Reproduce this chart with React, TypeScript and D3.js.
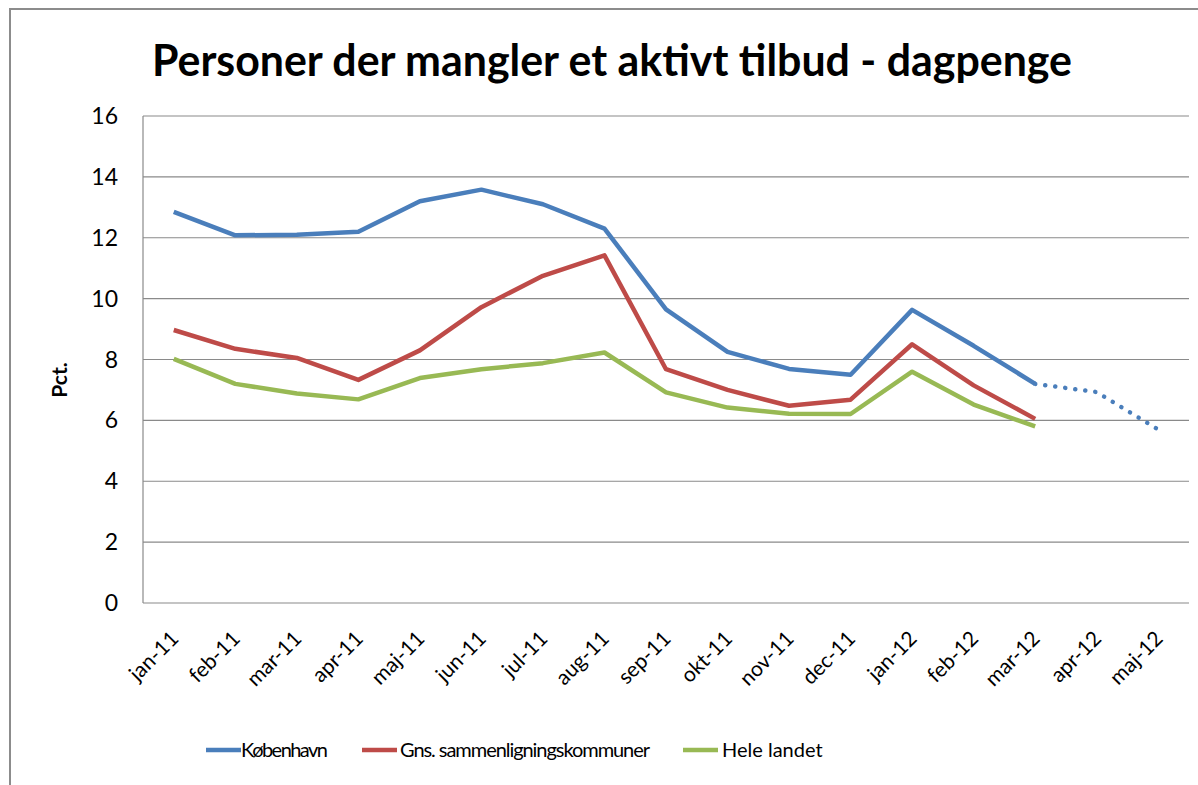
import React from "react";
import * as d3 from "d3";

const categories = [
  "jan-11", "feb-11", "mar-11", "apr-11", "maj-11", "jun-11", "jul-11", "aug-11",
  "sep-11", "okt-11", "nov-11", "dec-11", "jan-12", "feb-12", "mar-12", "apr-12", "maj-12",
];

const kobenhavn = [12.85, 12.08, 12.1, 12.2, 13.2, 13.58, 13.1, 12.3, 9.65, 8.25, 7.69, 7.5, 9.63, 8.45, 7.2, 6.93, 5.7];
const kobenhavnForecastFrom = 14; // dotted from mar-12 onwards
const sammenligning = [8.97, 8.35, 8.05, 7.33, 8.3, 9.72, 10.75, 11.42, 7.68, 7.0, 6.48, 6.68, 8.5, 7.15, 6.05];
const heleLandet = [8.02, 7.2, 6.88, 6.69, 7.39, 7.68, 7.88, 8.23, 6.92, 6.42, 6.22, 6.21, 7.6, 6.52, 5.8];

const yTicks = [0, 2, 4, 6, 8, 10, 12, 14, 16];
const seriesNames = ["København", "Gns. sammenligningskommuner", "Hele landet"];
const colors = ["#4A7EBB", "#BE4B48", "#98B954"];

const W = 1198;
const H = 785;
const plot = { left: 143, right: 1189, top: 116, bottom: 603 };

export default function App() {
  const x = d3.scaleBand<string>().domain(categories).range([plot.left, plot.right]).padding(0);
  const cx = (i: number) => (x(categories[i]) as number) + x.bandwidth() / 2;
  const y = d3.scaleLinear().domain([0, 16]).range([plot.bottom, plot.top]);

  const line = d3
    .line<number>()
    .x((_, i) => cx(i))
    .y((d) => y(d));

  const kbhSolid = kobenhavn.slice(0, kobenhavnForecastFrom + 1);
  const kbhDotted = d3
    .line<number>()
    .x((_, i) => cx(i + kobenhavnForecastFrom))
    .y((d) => y(d))(kobenhavn.slice(kobenhavnForecastFrom));

  const font = "Lato, 'Open Sans', 'Liberation Sans', sans-serif";

  const legendItems = [
    { lx: 206, tx: 241, w: 87 },
    { lx: 362, tx: 400, w: 250 },
    { lx: 683, tx: 722, w: 0 },
  ];

  return (
    <svg
      width={W}
      height={H}
      style={{ position: "absolute", left: 0, top: 0, background: "#fff" }}
      fontFamily={font}
    >
      <rect x={0} y={0} width={W} height={H} fill="#fff" />
      {/* outer chart border */}
      <rect x={10} y={9} width={W + 20} height={H + 20} fill="none" stroke="#8c8c8c" strokeWidth={2} />

      {/* title */}
      <text
        x={612}
        y={76}
        textAnchor="middle"
        fontSize={44}
        fontWeight="bold"
        fill="#000"
        textLength={920}
        lengthAdjust="spacingAndGlyphs"
      >
        Personer der mangler et aktivt tilbud - dagpenge
      </text>

      {/* gridlines */}
      {yTicks.map((t) => (
        <line
          key={t}
          x1={plot.left}
          x2={plot.right}
          y1={y(t)}
          y2={y(t)}
          stroke="#8a8a8a"
          strokeWidth={1.2}
        />
      ))}
      {/* y axis line */}
      <line x1={plot.left} x2={plot.left} y1={plot.top} y2={plot.bottom} stroke="#8a8a8a" strokeWidth={1.2} />

      {/* y tick labels */}
      {yTicks.map((t) => (
        <text key={t} x={118} y={y(t) + 8} textAnchor="end" fontSize={23} fill="#000">
          {t}
        </text>
      ))}

      {/* y axis title */}
      <text
        transform={`translate(67,${380}) rotate(-90)`}
        textAnchor="middle"
        fontSize={21}
        fontWeight="bold"
        fill="#000"
      >
        Pct.
      </text>

      {/* x tick labels */}
      {categories.map((c, i) => (
        <text
          key={c}
          transform={`translate(${cx(i) + 6},${640}) rotate(-45)`}
          textAnchor="end"
          fontSize={21}
          fill="#000"
        >
          {c}
        </text>
      ))}

      {/* lines */}
      <path d={line(heleLandet) || ""} fill="none" stroke={colors[2]} strokeWidth={4.5} strokeLinejoin="round" />
      <path d={line(sammenligning) || ""} fill="none" stroke={colors[1]} strokeWidth={4.5} strokeLinejoin="round" />
      <path d={line(kbhSolid) || ""} fill="none" stroke={colors[0]} strokeWidth={4.5} strokeLinejoin="round" />
      <path
        d={kbhDotted || ""}
        fill="none"
        stroke={colors[0]}
        strokeWidth={4.5}
        strokeDasharray="0.1 10"
        strokeLinecap="round"
      />

      {/* legend */}
      {seriesNames.map((n, i) => (
        <g key={n}>
          <line
            x1={legendItems[i].lx}
            x2={legendItems[i].lx + 35}
            y1={750}
            y2={750}
            stroke={colors[i]}
            strokeWidth={4.5}
          />
          <text
            x={legendItems[i].tx}
            y={757}
            fontSize={20}
            fill="#000"
            textLength={legendItems[i].w || undefined}
            lengthAdjust="spacing"
          >
            {n}
          </text>
        </g>
      ))}
    </svg>
  );
}
